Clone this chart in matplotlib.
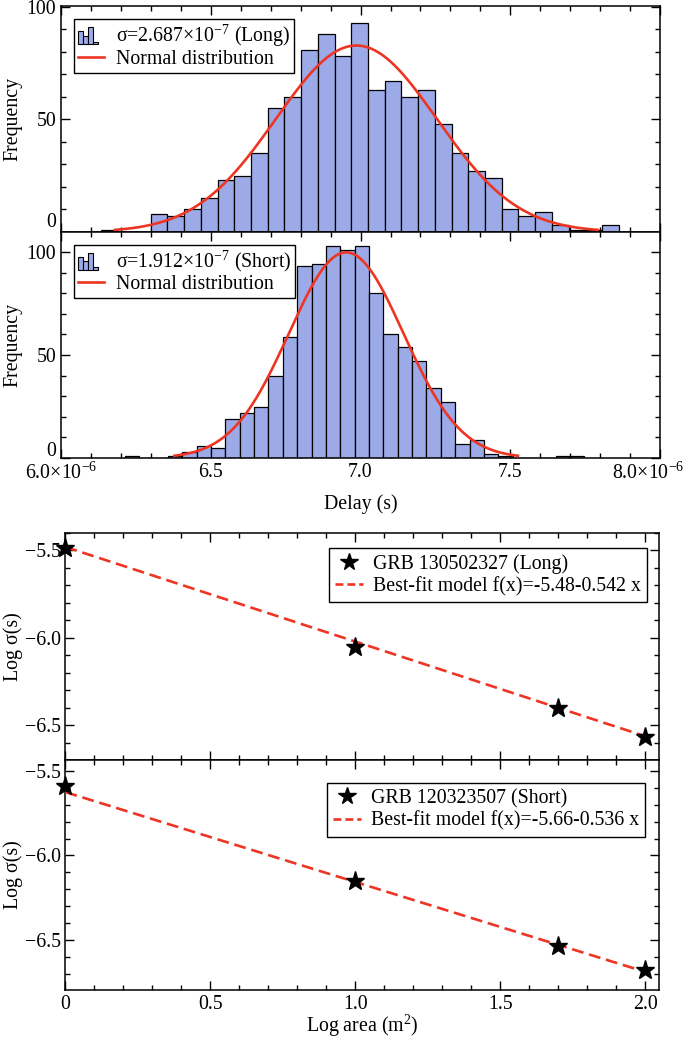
import numpy as np
import matplotlib
matplotlib.use('Agg')
import matplotlib.pyplot as plt
from matplotlib.patches import Rectangle
from matplotlib.legend_handler import HandlerBase
from matplotlib.lines import Line2D
from matplotlib.ticker import MultipleLocator
from matplotlib.transforms import ScaledTranslation

plt.rcParams['font.family'] = ['Liberation Serif', 'DejaVu Serif']
plt.rcParams['mathtext.fontset'] = 'custom'
plt.rcParams['mathtext.rm'] = 'Liberation Serif'
plt.rcParams['mathtext.it'] = 'Liberation Serif:italic'
plt.rcParams['font.size'] = 14.3
plt.rcParams['axes.linewidth'] = 1.1

# ---- histogram data (delay, seconds) ----
long_counts = [1, 0, 0, 8, 7, 10, 15, 23, 25, 35, 55, 60, 81, 88, 78, 93,
               63, 67, 60, 63, 48, 35, 27, 24, 10, 7, 9, 3, 1, 1, 3]
long_bin_start = 6.132e-6
long_bin_width = 0.0558e-6
long_mean = 6.986e-6
long_sigma = 2.687e-7

short_counts = [1, 0, 0, 1, 3, 6, 5, 19, 22, 25, 40, 59, 93, 94, 103, 101,
                103, 80, 60, 54, 47, 34, 27, 7, 9, 2, 1, 0, 0, 0, 1, 1]
short_bin_start = 6.213e-6
short_bin_width = 0.04795e-6
short_mean = 6.952e-6
short_sigma = 1.912e-7

delay_ticks = [6.0e-6, 6.5e-6, 7.0e-6, 7.5e-6, 8.0e-6]
delay_labels = ['6.0×10$^{-6}$', '6.5', '7.0', '7.5', '8.0×10$^{-6}$']

# ---- log sigma vs log area ----
log_area = [0, 1, 1.699, 2]
long_log_sigma = [-5.488, -6.055, -6.402, -6.571]
short_log_sigma = [-5.589, -6.149, -6.536, -6.679]
fit_x = [0, 2]
long_fit_y = [-5.48, -6.564]
short_fit_y = [-5.625, -6.690]
long_fit_label = 'Best-fit model f(x)=-5.48-0.542 x'
short_fit_label = 'Best-fit model f(x)=-5.66-0.536 x'

BAR = '#9daae8'
RED = '#ee3524'


class HistIcon(HandlerBase):
    def create_artists(self, legend, orig_handle, xdescent, ydescent,
                       width, height, fontsize, trans):
        rel = [0.78, 0.5, 1.0, 0.15]
        bw = width * 0.78 / len(rel)
        arts = []
        for i, h in enumerate(rel):
            r = Rectangle((-xdescent + i * bw, -ydescent - 0.15 * height), bw,
                          h * height * 1.2, facecolor=BAR, edgecolor='black',
                          lw=0.8, transform=trans)
            arts.append(r)
        return arts


def style(ax):
    ax.tick_params(which='both', direction='in', top=True, right=True,
                   width=1.0)
    ax.tick_params(which='major', length=6.5)
    ax.tick_params(which='minor', length=3.3)


def nudge(label, dx, dy):
    label.set_transform(label.get_transform() +
                        ScaledTranslation(dx / 100, dy / 100,
                                          fig.dpi_scale_trans))


def hist_panel(ax, counts, start, width, mean, sigma, label, ytop):
    counts = np.array(counts)
    lefts = start + width * np.arange(len(counts))
    ax.bar(lefts, counts, width=width, align='edge', color=BAR,
           edgecolor='black', lw=0.9, zorder=2)
    xs = np.linspace(mean - 3 * sigma, mean + 3 * sigma, 300)
    ys = counts.sum() * width / (sigma * np.sqrt(2 * np.pi)) * \
        np.exp(-0.5 * ((xs - mean) / sigma) ** 2)
    ax.plot(xs, ys, color=RED, lw=1.9, zorder=3)
    ax.set_xlim(6.0e-6, 8.0e-6)
    ax.set_ylim(0, ytop)
    ax.set_xticks(delay_ticks, delay_labels)
    ax.xaxis.set_minor_locator(MultipleLocator(0.1e-6))
    ax.set_yticks([0, 50, 100])
    ax.yaxis.set_minor_locator(MultipleLocator(10))
    style(ax)
    ax.set_ylabel('Frequency')
    ax.yaxis.set_label_coords(-0.064, 0.5)
    handles = [Rectangle((0, 0), 1, 1), Line2D([], [], color=RED, lw=1.9)]
    ax.legend(handles, [label, 'Normal distribution'],
              handler_map={Rectangle: HistIcon()},
              loc='upper left', bbox_to_anchor=(0.0217, 0.942),
              borderaxespad=0, fancybox=False, framealpha=1,
              edgecolor='black', handlelength=1.3, handletextpad=0.6,
              labelspacing=0.02, borderpad=0.2)
    ax.get_legend().get_frame().set_linewidth(1.0)


def fit_panel(ax, ys, fit_y, label, fit_label):
    ax.plot(fit_x, fit_y, '--', color=RED, lw=1.9, dashes=(4.5, 2.2),
            zorder=3)
    ax.plot(log_area, ys, '*', color='black', ms=14, clip_on=False,
            zorder=5)
    ax.set_xlim(0, 2.047)
    ax.xaxis.set_major_locator(MultipleLocator(0.5))
    ax.xaxis.set_minor_locator(MultipleLocator(0.1))
    ax.yaxis.set_major_locator(MultipleLocator(0.5))
    ax.yaxis.set_minor_locator(MultipleLocator(0.1))
    style(ax)
    ax.set_ylabel('Log σ(s)')
    ax.yaxis.set_label_coords(-0.072, 0.5)
    handles = [Line2D([], [], ls='none', marker='*', color='black', ms=13),
               Line2D([], [], ls='--', color=RED, lw=1.9, dashes=(3, 1.5))]
    return handles, [label, fit_label]


fig = plt.figure(figsize=(6.85, 10.37), dpi=100)
ax1 = fig.add_axes([0.0891, 0.7763, 0.8745, 0.2179])
ax2 = fig.add_axes([0.0891, 0.5583, 0.8745, 0.2179])
ax3 = fig.add_axes([0.0956, 0.2671, 0.8664, 0.2189])
ax4 = fig.add_axes([0.0956, 0.0453, 0.8664, 0.2218])

hist_panel(ax1, long_counts, long_bin_start, long_bin_width, long_mean,
           long_sigma, 'σ=2.687×10$^{-7}$ (Long)', 100.4)
hist_panel(ax2, short_counts, short_bin_start, short_bin_width, short_mean,
           short_sigma, 'σ=1.912×10$^{-7}$ (Short)', 109.7)
ax1.tick_params(labelbottom=False)
ax1.get_yticklabels()[0].set_va('bottom')
nudge(ax2.get_yticklabels()[0], 0, 9)
nudge(ax2.get_xticklabels()[-1], -12, 0)
ax2.set_xlabel('Delay (s)')
ax2.xaxis.set_label_coords(0.5, -0.16)

h, l = fit_panel(ax3, long_log_sigma, long_fit_y, 'GRB 130502327 (Long)',
                 long_fit_label)
ax3.set_ylim(-6.70, -5.40)
ax3.tick_params(labelbottom=False)
ax3.legend(h, l, loc='upper right', bbox_to_anchor=(0.979, 0.934),
           borderaxespad=0, fancybox=False, framealpha=1, edgecolor='black',
           handlelength=1.4, handletextpad=0.5, labelspacing=0.15,
           borderpad=0.3).get_frame().set_linewidth(1.0)

h, l = fit_panel(ax4, short_log_sigma, short_fit_y, 'GRB 120323507 (Short)',
                 short_fit_label)
ax4.set_ylim(-6.7976, -5.4345)
ax4.set_xticks([0, 0.5, 1.0, 1.5, 2.0], ['0', '0.5', '1.0', '1.5', '2.0'])
ax4.set_xlabel('Log area (m$^2$)')
ax4.xaxis.set_label_coords(0.5, -0.098)
ax4.legend(h, l, loc='upper right', bbox_to_anchor=(0.976, 0.90),
           borderaxespad=0, fancybox=False, framealpha=1, edgecolor='black',
           handlelength=1.4, handletextpad=0.5, labelspacing=0.15,
           borderpad=0.3).get_frame().set_linewidth(1.0)

fig.savefig('out.png', dpi=100)
